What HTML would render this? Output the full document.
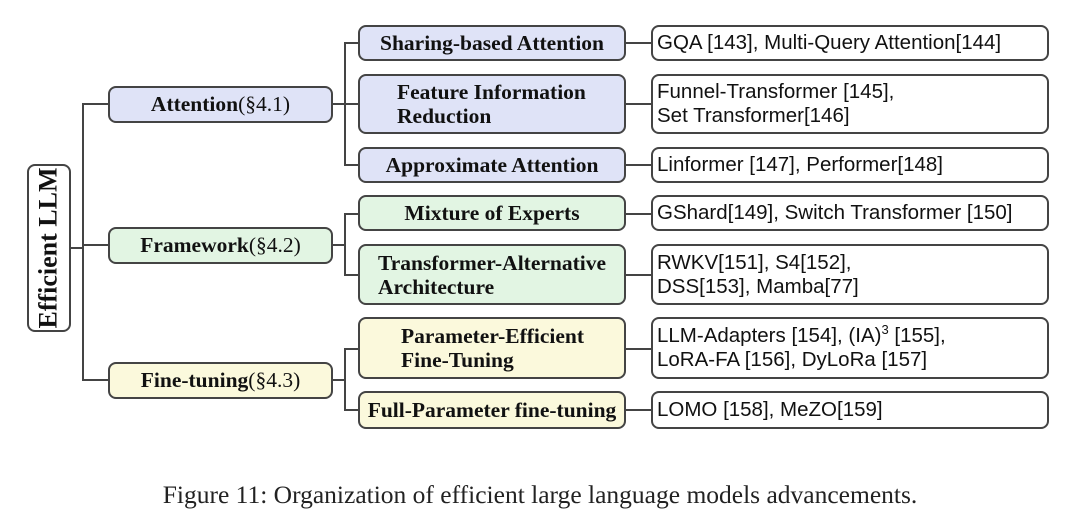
<!DOCTYPE html>
<html><head><style>
body{margin:0;width:1080px;height:523px;background:#fff;position:relative;font-family:"Liberation Serif",serif;overflow:hidden}
.b{position:absolute;box-sizing:border-box;border:2px solid #444;border-radius:8px;display:flex;align-items:center;color:#111;font-size:21.5px}
.c{justify-content:center;text-align:center;font-weight:bold}
.l{padding-left:4px;line-height:24px;background:#fff;font-family:"Liberation Sans",sans-serif;font-size:20.5px}
.p{background:#dfe3f7}.g{background:#e2f5e3}.y{background:#fbf9dc}
.h{position:absolute;background:#444;height:2px}.v{position:absolute;background:#444;width:2px}
</style></head><body>
<div class="b c" style="left:27px;top:164px;width:44px;height:168px;background:#fff"><div style="transform:rotate(-90deg);white-space:nowrap;font-size:26px">Efficient LLM</div></div>
<div class="h" style="left:70px;top:247px;width:14px"></div>
<div class="v" style="left:82px;top:103px;height:278px"></div>
<div class="h" style="left:82px;top:103px;width:27px"></div>
<div class="h" style="left:82px;top:244px;width:27px"></div>
<div class="h" style="left:82px;top:379px;width:27px"></div>

<div class="b c p" style="left:108px;top:86px;width:225px;height:37px"><span>Attention<span style="font-weight:normal">(§4.1)</span></span></div>
<div class="b c g" style="left:108px;top:227px;width:225px;height:37px"><span>Framework<span style="font-weight:normal">(§4.2)</span></span></div>
<div class="b c y" style="left:108px;top:362px;width:225px;height:37px"><span>Fine-tuning<span style="font-weight:normal">(§4.3)</span></span></div>

<div class="h" style="left:332px;top:103px;width:14px"></div>
<div class="v" style="left:344px;top:42px;height:124px"></div>
<div class="h" style="left:344px;top:42px;width:15px"></div>
<div class="h" style="left:344px;top:103px;width:15px"></div>
<div class="h" style="left:344px;top:164px;width:15px"></div>
<div class="h" style="left:332px;top:244px;width:14px"></div>
<div class="v" style="left:344px;top:213px;height:62px"></div>
<div class="h" style="left:344px;top:213px;width:15px"></div>
<div class="h" style="left:344px;top:274px;width:15px"></div>
<div class="h" style="left:332px;top:379px;width:14px"></div>
<div class="v" style="left:344px;top:348px;height:63px"></div>
<div class="h" style="left:344px;top:348px;width:15px"></div>
<div class="h" style="left:344px;top:409px;width:15px"></div>

<div class="b c p" style="left:358px;top:25px;width:268px;height:36px">Sharing-based Attention</div>
<div class="b c p" style="left:358px;top:74px;width:268px;height:60px;line-height:24px;justify-content:flex-start;text-align:left;padding-left:37px"><div>Feature Information<br>Reduction</div></div>
<div class="b c p" style="left:358px;top:147px;width:268px;height:36px">Approximate Attention</div>
<div class="b c g" style="left:358px;top:195px;width:268px;height:36px">Mixture of Experts</div>
<div class="b c g" style="left:358px;top:244px;width:268px;height:61px;line-height:24px;justify-content:flex-start;text-align:left;padding-left:18px"><div>Transformer-Alternative<br>Architecture</div></div>
<div class="b c y" style="left:358px;top:317px;width:268px;height:62px;line-height:24px;justify-content:flex-start;text-align:left;padding-left:41px"><div>Parameter-Efficient<br>Fine-Tuning</div></div>
<div class="b c y" style="left:358px;top:391px;width:268px;height:38px">Full-Parameter fine-tuning</div>

<div class="h" style="left:625px;top:42px;width:27px"></div>
<div class="h" style="left:625px;top:103px;width:27px"></div>
<div class="h" style="left:625px;top:164px;width:27px"></div>
<div class="h" style="left:625px;top:213px;width:27px"></div>
<div class="h" style="left:625px;top:274px;width:27px"></div>
<div class="h" style="left:625px;top:348px;width:27px"></div>
<div class="h" style="left:625px;top:409px;width:27px"></div>

<div class="b l" style="left:651px;top:25px;width:398px;height:36px"><div>GQA [143], Multi-Query Attention[144]</div></div>
<div class="b l" style="left:651px;top:74px;width:398px;height:60px"><div>Funnel-Transformer [145],<br>Set Transformer[146]</div></div>
<div class="b l" style="left:651px;top:147px;width:398px;height:36px"><div>Linformer [147], Performer[148]</div></div>
<div class="b l" style="left:651px;top:195px;width:398px;height:36px"><div>GShard[149], Switch Transformer [150]</div></div>
<div class="b l" style="left:651px;top:244px;width:398px;height:61px"><div>RWKV[151], S4[152],<br>DSS[153], Mamba[77]</div></div>
<div class="b l" style="left:651px;top:317px;width:398px;height:62px"><div>LLM-Adapters [154], (IA)<sup style="font-size:13px;line-height:0">3</sup> [155],<br>LoRA-FA [156], DyLoRa [157]</div></div>
<div class="b l" style="left:651px;top:391px;width:398px;height:38px"><div>LOMO [158], MeZO[159]</div></div>

<div style="position:absolute;left:0;width:1080px;top:480px;text-align:center;font-size:25.5px;color:#222">Figure 11: Organization of efficient large language models advancements.</div>
</body></html>
